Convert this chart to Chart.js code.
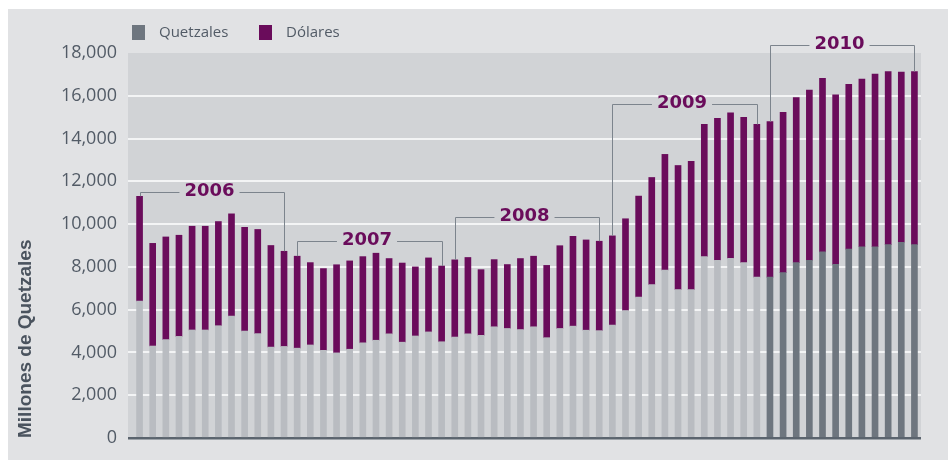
<!DOCTYPE html>
<html>
<head>
<meta charset="utf-8">
<script src="https://cdn.jsdelivr.net/npm/chart.js@4.4.1/dist/chart.umd.min.js"></script>
<style>
  html, body { margin: 0; padding: 0; background: #fff; }
  #wrap { width: 948px; height: 460px; }
</style>
</head>
<body>
<div id="wrap"><canvas id="remesas"></canvas></div>
<script>
// datos mensuales, millones de quetzales
const years = ['2006', '2007', '2008', '2009', '2010'];
const months = ['Ene', 'Feb', 'Mar', 'Abr', 'May', 'Jun', 'Jul', 'Ago', 'Sep', 'Oct', 'Nov', 'Dic'];
const quetzales = [
  6400, 4300, 4600, 4750, 5050, 5050, 5250, 5700, 5000, 4880, 4250, 4280,
  4200, 4350, 4100, 3980, 4150, 4450, 4570, 4870, 4480, 4770, 4960, 4500,
  4720, 4870, 4800, 5200, 5120, 5070, 5200, 4690, 5120, 5230, 5040, 5020,
  5280, 5960, 6590, 7170, 7850, 6940, 6940, 8480, 8310, 8400, 8200, 7520,
  7520, 7730, 8200, 8310, 8700, 8120, 8830, 8940, 8940, 9040, 9150, 9040,
];
const dolares = [
  4900, 4800, 4800, 4730, 4850, 4850, 4870, 4780, 4850, 4870, 4750, 4450,
  4300, 3850, 3820, 4120, 4130, 4030, 4070, 3520, 3700, 3230, 3460, 3540,
  3610, 3570, 3070, 3140, 2990, 3320, 3300, 3380, 3870, 4200, 4220, 4180,
  4170, 4290, 4720, 5010, 5410, 5800, 5990, 6180, 6640, 6800, 6790, 7140,
  7270, 7500, 7710, 7960, 8110, 7930, 7710, 7840, 8080, 8090, 7960, 8090,
];
const categories = years.flatMap(y => months.map(m => m + ' ' + y));

const PURPLE = '#6a0c5b';
const GREY_LIGHT = '#b9bcc1';
const GREY_DARK = '#6e767f';
const TEXT = '#525b66';

// altura (en unidades del eje) de cada corchete de año
const bracketLevels = [11480, 9230, 10330, 15600, 18360];

const panel = {
  id: 'panel',
  beforeDraw(chart) {
    const { ctx, chartArea: a } = chart;
    ctx.save();
    ctx.fillStyle = '#fff';
    ctx.fillRect(0, 0, chart.width, chart.height);
    ctx.fillStyle = '#e1e2e4';
    ctx.fillRect(8, 9, chart.width - 8, chart.height - 9);
    ctx.fillStyle = '#d1d3d6';
    ctx.fillRect(a.left - 5, a.top, a.right - a.left + 5, a.bottom - a.top);
    ctx.restore();
  },
};

const brackets = {
  id: 'brackets',
  afterDatasetsDraw(chart) {
    const { ctx } = chart;
    const x = chart.scales.x;
    const y = chart.scales.y;
    ctx.save();
    ctx.strokeStyle = '#7c848d';
    ctx.lineWidth = 1;
    ctx.font = 'bold 18px "DejaVu Sans"';
    ctx.textAlign = 'center';
    ctx.textBaseline = 'middle';
    years.forEach((yr, i) => {
      const first = i * 12;
      const last = first + 11;
      const x1 = Math.round(x.getPixelForValue(first)) + 0.5;
      const x2 = Math.round(x.getPixelForValue(last)) + 0.5;
      const ly = Math.round(y.getPixelForValue(bracketLevels[i])) + 0.5;
      const top1 = y.getPixelForValue(quetzales[first] + dolares[first]);
      const top2 = y.getPixelForValue(quetzales[last] + dolares[last]);
      const cx = (x1 + x2) / 2 - 3;
      const half = ctx.measureText(yr).width / 2 + 5;
      ctx.beginPath();
      ctx.moveTo(x1, top1);
      ctx.lineTo(x1, ly);
      ctx.lineTo(cx - half, ly);
      ctx.moveTo(cx + half, ly);
      ctx.lineTo(x2, ly);
      ctx.lineTo(x2, top2);
      ctx.stroke();
      ctx.fillStyle = PURPLE;
      ctx.fillText(yr, cx, ly - 1);
    });
    ctx.restore();
  },
  afterDraw(chart) {
    // leyenda
    const { ctx } = chart;
    const items = [
      { label: chart.data.datasets[0].label, color: GREY_DARK, x: 132 },
      { label: chart.data.datasets[1].label, color: PURPLE, x: 259 },
    ];
    ctx.save();
    ctx.font = '15px "Open Sans"';
    ctx.textBaseline = 'middle';
    ctx.textAlign = 'left';
    items.forEach(it => {
      ctx.fillStyle = it.color;
      ctx.fillRect(it.x, 25, 13, 15);
      ctx.fillStyle = TEXT;
      ctx.fillText(it.label, it.x + 27, 33);
    });
    ctx.restore();
  },
};

const gridColor = c => {
  if (c.tick.value === 0) return '#5b646e';
  if (c.tick.value === 18000) return 'rgba(0,0,0,0)';
  return '#f3f4f5';
};

new Chart(document.getElementById('remesas'), {
  type: 'bar',
  data: {
    labels: categories,
    datasets: [
      {
        label: 'Quetzales',
        data: quetzales,
        backgroundColor: c => (categories[c.dataIndex] || '').endsWith('2010') ? GREY_DARK : GREY_LIGHT,
        barThickness: 6,
        borderWidth: 0,
      },
      {
        label: 'Dólares',
        data: dolares,
        backgroundColor: PURPLE,
        barThickness: 6,
        borderWidth: 0,
      },
    ],
  },
  options: {
    responsive: true,
    maintainAspectRatio: false,
    animation: false,
    devicePixelRatio: 1,
    layout: { padding: { top: 53, right: 27, bottom: 22, left: 0 } },
    plugins: {
      legend: { display: false },
      tooltip: { enabled: false },
    },
    scales: {
      x: {
        stacked: true,
        display: false,
      },
      y: {
        stacked: true,
        min: 0,
        max: 18000,
        afterFit(scale) { scale.width = 133; },
        border: { display: false },
        grid: {
          color: gridColor,
          tickColor: gridColor,
          lineWidth: c => (c.tick.value === 0 ? 2.5 : 2),
          tickLength: 5,
        },
        ticks: {
          stepSize: 2000,
          padding: 11,
          color: TEXT,
          font: { family: '"Open Sans"', size: 18 },
          callback: v => v.toLocaleString('en-US'),
        },
        title: {
          display: true,
          text: 'Millones de Quetzales',
          align: 'start',
          color: '#4a535e',
          font: { family: '"Liberation Sans"', size: 19, weight: 'bold' },
          padding: { top: 14, bottom: 0 },
        },
      },
    },
  },
  plugins: [panel, brackets],
});
</script>
</body>
</html>
